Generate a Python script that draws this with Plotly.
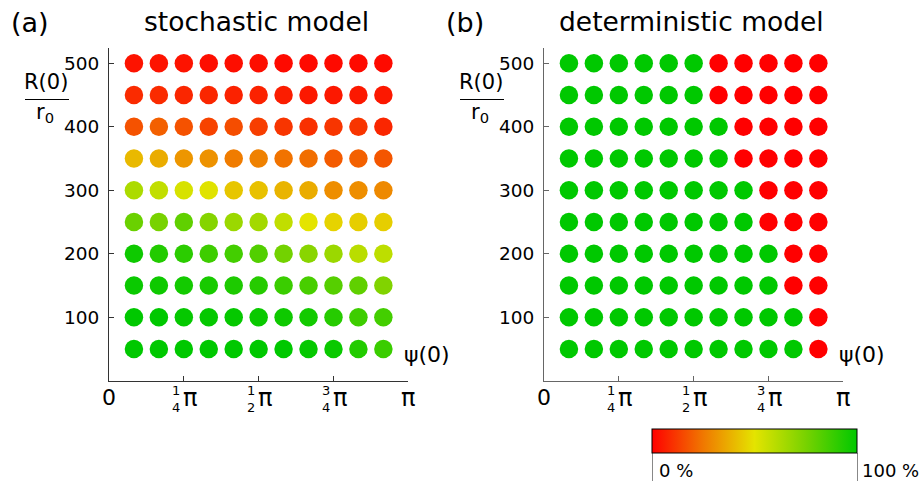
import plotly.graph_objects as go
import math

# ---------------- data ----------------
psi_over_pi = [1/12, 2/12, 3/12, 4/12, 5/12, 6/12, 7/12, 8/12, 9/12, 10/12, 11/12]
R_values = [500, 450, 400, 350, 300, 250, 200, 150, 100, 50]   # rows, top to bottom

# stochastic model: percentage (0..100), rows follow R_values
stochastic = [
    [4, 4, 4, 3, 3, 3, 2, 2, 2, 2, 2],
    [9, 9, 8, 8, 7, 7, 6, 5, 5, 5, 5],
    [17, 20, 17, 14, 16, 13, 11, 10, 11, 11, 8],
    [40, 37, 32, 31, 26, 27, 24, 23, 19, 20, 18],
    [63, 58, 53, 51, 43, 42, 39, 37, 30, 30, 29],
    [78, 75, 80, 72, 67, 65, 58, 50, 46, 45, 45],
    [97, 93, 91, 87, 86, 83, 76, 71, 67, 60, 59],
    [98, 97, 96, 95, 94, 92, 88, 85, 82, 80, 73],
    [100, 100, 99, 99, 99, 98, 97, 96, 92, 87, 86],
    [100, 100, 100, 100, 100, 100, 100, 99, 98, 93, 88],
]

# deterministic model: 100 = green, 0 = red
deterministic = [
    [100, 100, 100, 100, 100, 100, 0, 0, 0, 0, 0],
    [100, 100, 100, 100, 100, 100, 0, 0, 0, 0, 0],
    [100, 100, 100, 100, 100, 100, 100, 0, 0, 0, 0],
    [100, 100, 100, 100, 100, 100, 100, 0, 0, 0, 0],
    [100, 100, 100, 100, 100, 100, 100, 100, 0, 0, 0],
    [100, 100, 100, 100, 100, 100, 100, 100, 0, 0, 0],
    [100, 100, 100, 100, 100, 100, 100, 100, 100, 0, 0],
    [100, 100, 100, 100, 100, 100, 100, 100, 100, 0, 0],
    [100, 100, 100, 100, 100, 100, 100, 100, 100, 100, 0],
    [100, 100, 100, 100, 100, 100, 100, 100, 100, 100, 0],
]

panel_titles = ["stochastic model", "deterministic model"]
panel_letters = ["(a)", "(b)"]
y_ticks = [100, 200, 300, 400, 500]
x_tick_fracs = [0, 0.25, 0.5, 0.75, 1.0]
x_tick_frac_labels = [("1", "4"), ("1", "2"), ("3", "4")]
colorbar_ticks = [0, 100]
colorbar_labels = ["0 %", "100 %"]

# ---------------- figure ----------------
PI = math.pi
W, H = 922, 488
FONT = "DejaVu Sans"

def px_x(p):
    return p / W

def px_y(p):
    return 1 - p / H

colorscale = [
    [0.0, "rgb(255,0,0)"],
    [0.25, "rgb(240,120,0)"],
    [0.5, "rgb(228,228,0)"],
    [0.75, "rgb(120,210,0)"],
    [1.0, "rgb(0,200,0)"],
]

fig = go.Figure()

for i, data in enumerate([stochastic, deterministic]):
    xs, ys, cs = [], [], []
    for r, row in zip(R_values, data):
        for f, v in zip(psi_over_pi, row):
            xs.append(f * PI)
            ys.append(r)
            cs.append(v)
    fig.add_trace(go.Scatter(
        x=xs, y=ys, mode="markers",
        marker=dict(size=18.5, color=cs, coloraxis="coloraxis", line=dict(width=0)),
        xaxis="x" if i == 0 else "x2", yaxis="y" if i == 0 else "y2",
        showlegend=False, hoverinfo="skip",
    ))

axis_colors = ["#333333", "#666666"]
x_domains = [[109 / W, 408.3 / W], [544 / W, 843.3 / W]]
y_domain = [px_y(380.8), px_y(48)]

def xaxis_def(i):
    return dict(range=[0, PI], showgrid=False, zeroline=False, showline=True,
                linecolor=axis_colors[i], linewidth=1, ticks="inside", ticklen=5,
                tickcolor=axis_colors[i], tickvals=[f * PI for f in x_tick_fracs],
                showticklabels=False, domain=x_domains[i],
                anchor="y" if i == 0 else "y2")

def yaxis_def(i):
    return dict(range=[0, 524], showgrid=False, zeroline=False, showline=True,
                linecolor=axis_colors[i], linewidth=1, ticks="inside", ticklen=5,
                tickcolor=axis_colors[i], tickvals=y_ticks,
                tickfont=dict(family=FONT, size=18.5, color="black"),
                ticklabelstandoff=5, domain=y_domain,
                anchor="x" if i == 0 else "x2")

CB_LEFT, CB_RIGHT = 652, 857

fig.update_layout(
    width=W, height=H, margin=dict(l=0, r=0, t=0, b=0, autoexpand=False),
    plot_bgcolor="white", paper_bgcolor="white",
    font=dict(family=FONT, color="black"),
    xaxis=xaxis_def(0), yaxis=yaxis_def(0),
    xaxis2=xaxis_def(1), yaxis2=yaxis_def(1),
    coloraxis=dict(
        colorscale=colorscale, cmin=0, cmax=100,
        colorbar=dict(
            orientation="h", x=px_x((CB_LEFT + CB_RIGHT) / 2), xanchor="center",
            y=px_y(429), yanchor="top", len=CB_RIGHT - CB_LEFT, lenmode="pixels",
            thickness=24, thicknessmode="pixels", xpad=0, ypad=0,
            outlinewidth=1, outlinecolor="black",
            tickvals=colorbar_ticks, showticklabels=False,
            ticks="outside", ticklen=28, tickcolor="#888888", tickwidth=1,
        ),
    ),
)

annotations = []
shapes = []
offsets = [0, 435]
for i in range(2):
    xa = "x" if i == 0 else "x2"
    off = offsets[i]
    # panel letter
    annotations.append(dict(text=panel_letters[i], x=px_x(30 + off), y=px_y(23),
                            xref="paper", yref="paper", showarrow=False,
                            font=dict(size=27, family=FONT), xanchor="center", yanchor="middle"))
    # title
    annotations.append(dict(text=panel_titles[i], x=px_x(256 + off), y=px_y(22),
                            xref="paper", yref="paper", showarrow=False,
                            font=dict(size=26.5, family=FONT), xanchor="center", yanchor="middle"))
    # y-axis label R(0)/r0
    annotations.append(dict(text="R(0)", x=px_x(46 + off), y=px_y(82),
                            xref="paper", yref="paper", showarrow=False,
                            font=dict(size=21, family=FONT), xanchor="center", yanchor="middle"))
    annotations.append(dict(text="r<sub>0</sub>", x=px_x(45 + off), y=px_y(113),
                            xref="paper", yref="paper", showarrow=False,
                            font=dict(size=21, family=FONT), xanchor="center", yanchor="middle"))
    shapes.append(dict(type="line", xref="paper", yref="paper",
                       x0=px_x(25 + off), x1=px_x(69 + off), y0=px_y(99.5), y1=px_y(99.5),
                       line=dict(color="black", width=1.2)))
    # x-axis label psi(0)
    annotations.append(dict(text="ψ(0)", x=px_x(427 + off), y=px_y(354),
                            xref="paper", yref="paper", showarrow=False,
                            font=dict(size=22, family=FONT), xanchor="center", yanchor="middle"))
    # x tick labels 0 and pi
    annotations.append(dict(text="0", x=0, xref=xa, y=px_y(397), yref="paper",
                            showarrow=False, font=dict(size=22, family=FONT),
                            xanchor="center", yanchor="middle"))
    annotations.append(dict(text="π", x=PI, xref=xa, y=px_y(398), yref="paper",
                            showarrow=False, font=dict(size=24, family=FONT),
                            xanchor="center", yanchor="middle"))
    # fractional pi tick labels: stacked digits + pi
    for (num, den), f in zip(x_tick_frac_labels, x_tick_fracs[1:4]):
        annotations.append(dict(text=num + "<br>" + den, x=f * PI, xref=xa, y=px_y(398.5),
                                yref="paper", xshift=-2.5, showarrow=False, borderpad=0,
                                font=dict(size=13, family=FONT),
                                xanchor="right", yanchor="middle"))
        annotations.append(dict(text="π", x=f * PI, xref=xa, y=px_y(398), yref="paper",
                                xshift=-1.5, showarrow=False, borderpad=0,
                                font=dict(size=24, family=FONT),
                                xanchor="left", yanchor="middle"))

# colorbar labels
annotations.append(dict(text=colorbar_labels[0], x=px_x(CB_LEFT + 6), y=px_y(470),
                        xref="paper", yref="paper", showarrow=False, borderpad=0,
                        font=dict(size=18, family=FONT), xanchor="left", yanchor="middle"))
annotations.append(dict(text=colorbar_labels[1], x=px_x(920), y=px_y(470),
                        xref="paper", yref="paper", showarrow=False, borderpad=0,
                        font=dict(size=18, family=FONT), xanchor="right", yanchor="middle"))

fig.update_layout(annotations=annotations, shapes=shapes)
fig.write_html("out.html")
